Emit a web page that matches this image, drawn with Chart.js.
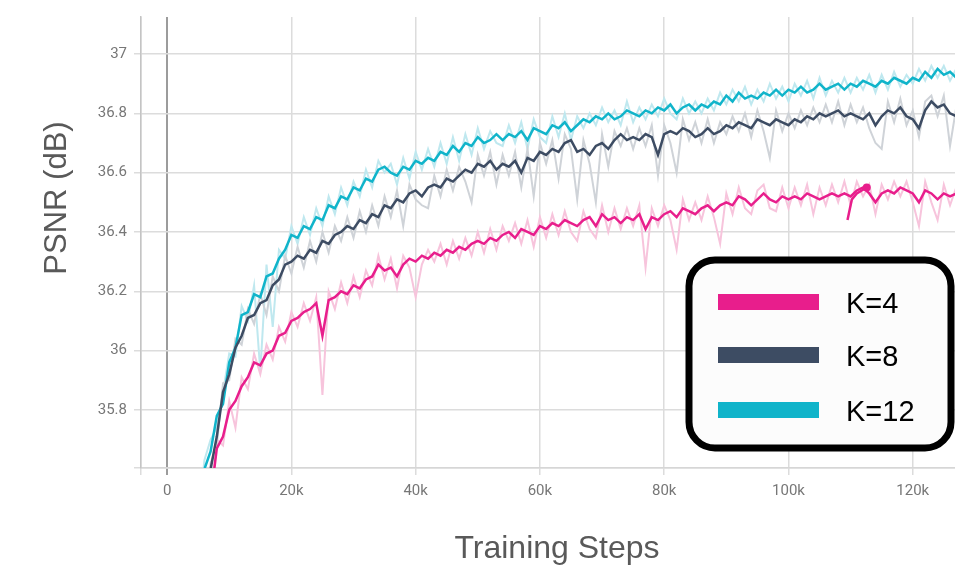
<!DOCTYPE html>
<html>
<head>
<meta charset="utf-8">
<script src="https://cdn.jsdelivr.net/npm/chart.js@4.4.1/dist/chart.umd.min.js"></script>
<style>
  html, body { margin: 0; padding: 0; background: #fff; overflow: hidden; }
  #wrap { width: 955px; height: 571px; }
  canvas { display: block; }
</style>
</head>
<body>
<div id="wrap"><canvas id="psnr" width="955" height="571"></canvas></div>
<script>
// training steps, in thousands
const steps = [
  5, 6, 7, 8, 9, 10, 11, 12, 13, 14,
  15, 16, 17, 18, 19, 20, 21, 22, 23, 24,
  25, 26, 27, 28, 29, 30, 31, 32, 33, 34,
  35, 36, 37, 38, 39, 40, 41, 42, 43, 44,
  45, 46, 47, 48, 49, 50, 51, 52, 53, 54,
  55, 56, 57, 58, 59, 60, 61, 62, 63, 64,
  65, 66, 67, 68, 69, 70, 71, 72, 73, 74,
  75, 76, 77, 78, 79, 80, 81, 82, 83, 84,
  85, 86, 87, 88, 89, 90, 91, 92, 93, 94,
  95, 96, 97, 98, 99, 100, 101, 102, 103, 104,
  105, 106, 107, 108, 109, 110, 111, 112, 113, 114,
  115, 116, 117, 118, 119, 120, 121, 122, 123, 124,
  125, 126, 127
];

// K=12 (smoothed + raw)
const k12 = [
  35.45, 35.60, 35.66, 35.78, 35.82, 35.96, 36.01, 36.12, 36.13, 36.19,
  36.18, 36.25, 36.26, 36.31, 36.34, 36.39, 36.38, 36.42, 36.41, 36.45,
  36.44, 36.49, 36.48, 36.52, 36.51, 36.55, 36.54, 36.58, 36.57, 36.61,
  36.62, 36.60, 36.59, 36.62, 36.61, 36.64, 36.63, 36.65, 36.64, 36.67,
  36.66, 36.69, 36.67, 36.70, 36.69, 36.72, 36.70, 36.71, 36.73, 36.71,
  36.73, 36.72, 36.74, 36.71, 36.75, 36.74, 36.73, 36.76, 36.75, 36.77,
  36.74, 36.76, 36.78, 36.77, 36.79, 36.78, 36.80, 36.78, 36.79, 36.81,
  36.80, 36.79, 36.81, 36.80, 36.82, 36.81, 36.83, 36.80, 36.82, 36.83,
  36.81, 36.83, 36.82, 36.84, 36.83, 36.86, 36.84, 36.87, 36.85, 36.86,
  36.85, 36.87, 36.86, 36.88, 36.86, 36.88, 36.87, 36.89, 36.87, 36.88,
  36.90, 36.88, 36.89, 36.90, 36.88, 36.90, 36.89, 36.91, 36.90, 36.89,
  36.91, 36.90, 36.92, 36.91, 36.90, 36.92, 36.91, 36.94, 36.92, 36.95,
  36.93, 36.94, 36.92
];
const k12Raw = [
  35.42, 35.63, 35.70, 35.74, 35.86, 35.99, 35.98, 36.15, 36.10, 36.22,
  35.93, 36.29, 36.08, 36.34, 36.31, 36.42, 36.36, 36.45, 36.39, 36.48,
  36.42, 36.52, 36.46, 36.55, 36.49, 36.57, 36.52, 36.61, 36.55, 36.64,
  36.60, 36.63, 36.56, 36.65, 36.58, 36.67, 36.61, 36.68, 36.62, 36.70,
  36.63, 36.72, 36.64, 36.73, 36.66, 36.75, 36.68, 36.74, 36.70, 36.69,
  36.76, 36.70, 36.77, 36.68, 36.78, 36.72, 36.70, 36.79, 36.72, 36.80,
  36.71, 36.79, 36.75, 36.80, 36.76, 36.82, 36.77, 36.81, 36.76, 36.84,
  36.77, 36.82, 36.78, 36.83, 36.79, 36.85, 36.80, 36.78, 36.85, 36.80,
  36.84, 36.80, 36.85, 36.81, 36.87, 36.83, 36.88, 36.84, 36.89, 36.83,
  36.88, 36.84, 36.90, 36.85, 36.89, 36.84, 36.90, 36.86, 36.91, 36.85,
  36.92, 36.86, 36.91, 36.87, 36.92, 36.87, 36.92, 36.88, 36.93, 36.87,
  36.93, 36.88, 36.94, 36.89, 36.93, 36.90, 36.95, 36.91, 36.96, 36.92,
  36.96, 36.91, 36.95
];

// K=8
const k8 = [
  null, 35.45, 35.60, 35.71, 35.86, 35.92, 36.01, 36.05, 36.11, 36.12,
  36.16, 36.17, 36.22, 36.24, 36.29, 36.30, 36.32, 36.31, 36.34, 36.33,
  36.37, 36.36, 36.39, 36.40, 36.42, 36.41, 36.44, 36.43, 36.46, 36.45,
  36.49, 36.48, 36.51, 36.50, 36.53, 36.54, 36.52, 36.55, 36.56, 36.55,
  36.58, 36.57, 36.59, 36.61, 36.60, 36.63, 36.62, 36.64, 36.61, 36.63,
  36.62, 36.64, 36.60, 36.65, 36.64, 36.67, 36.66, 36.68, 36.67, 36.70,
  36.71, 36.67, 36.68, 36.66, 36.69, 36.70, 36.68, 36.71, 36.73, 36.71,
  36.72, 36.71, 36.73, 36.72, 36.66, 36.73, 36.74, 36.73, 36.75, 36.74,
  36.72, 36.73, 36.75, 36.73, 36.74, 36.76, 36.75, 36.77, 36.76, 36.75,
  36.78, 36.77, 36.76, 36.78, 36.77, 36.76, 36.78, 36.77, 36.79, 36.78,
  36.80, 36.79, 36.80, 36.81, 36.79, 36.80, 36.79, 36.78, 36.80, 36.76,
  36.79, 36.81, 36.80, 36.82, 36.79, 36.78, 36.75, 36.81, 36.84, 36.82,
  36.83, 36.80, 36.79
];
const k8Raw = [
  null, 35.42, 35.62, 35.68, 35.89, 35.90, 36.04, 36.02, 36.14, 36.09,
  36.19, 36.12, 36.25, 36.20, 36.32, 36.26, 36.35, 36.28, 36.37, 36.30,
  36.40, 36.33, 36.42, 36.37, 36.45, 36.38, 36.47, 36.40, 36.49, 36.42,
  36.52, 36.45, 36.54, 36.42, 36.56, 36.51, 36.49, 36.48, 36.59, 36.52,
  36.61, 36.54, 36.62, 36.57, 36.50, 36.66, 36.59, 36.67, 36.56, 36.66,
  36.59, 36.67, 36.55, 36.68, 36.52, 36.70, 36.63, 36.71, 36.58, 36.73,
  36.68, 36.51, 36.71, 36.63, 36.50, 36.73, 36.62, 36.74, 36.69, 36.75,
  36.68, 36.75, 36.69, 36.76, 36.59, 36.76, 36.70, 36.60, 36.78, 36.71,
  36.77, 36.70, 36.78, 36.70, 36.77, 36.73, 36.79, 36.74, 36.80, 36.72,
  36.81, 36.74, 36.65, 36.81, 36.74, 36.80, 36.75, 36.81, 36.76, 36.82,
  36.77, 36.83, 36.77, 36.84, 36.76, 36.83, 36.77, 36.82, 36.75, 36.70,
  36.68, 36.84, 36.77, 36.85, 36.76, 36.81, 36.72, 36.84, 36.86, 36.79,
  36.86, 36.69, 36.82
];

// K=4
const k4 = [
  null, null, 35.50, 35.67, 35.71, 35.80, 35.83, 35.88, 35.91, 35.96,
  35.95, 35.99, 36.00, 36.05, 36.06, 36.10, 36.11, 36.13, 36.14, 36.16,
  36.05, 36.17, 36.18, 36.20, 36.19, 36.22, 36.21, 36.24, 36.25, 36.29,
  36.27, 36.28, 36.25, 36.29, 36.31, 36.30, 36.32, 36.31, 36.33, 36.32,
  36.34, 36.33, 36.35, 36.34, 36.36, 36.37, 36.36, 36.38, 36.37, 36.39,
  36.40, 36.38, 36.41, 36.40, 36.39, 36.42, 36.41, 36.43, 36.42, 36.44,
  36.43, 36.42, 36.44, 36.45, 36.42, 36.46, 36.44, 36.45, 36.43, 36.45,
  36.44, 36.46, 36.41, 36.45, 36.44, 36.46, 36.47, 36.45, 36.48, 36.47,
  36.46, 36.48, 36.49, 36.47, 36.49, 36.50, 36.49, 36.52, 36.51, 36.49,
  36.51, 36.53, 36.51, 36.50, 36.52, 36.51, 36.52, 36.51, 36.53, 36.52,
  36.51, 36.52, 36.53, 36.52, 36.53, 36.52, 36.54, 36.55, 36.53, 36.50,
  36.53, 36.54, 36.53, 36.55, 36.54, 36.53, 36.50, 36.54, 36.53, 36.51,
  36.53, 36.52, 36.53
];
const k4Raw = [
  null, null, 35.47, 35.70, 35.68, 35.83, 35.74, 35.91, 35.87, 35.99,
  35.92, 36.02, 35.97, 36.08, 36.03, 36.13, 36.08, 36.16, 36.10, 36.18,
  35.85, 36.20, 36.14, 36.23, 36.16, 36.25, 36.18, 36.27, 36.22, 36.32,
  36.24, 36.31, 36.21, 36.32, 36.28, 36.18, 36.29, 36.34, 36.30, 36.36,
  36.29, 36.37, 36.31, 36.38, 36.32, 36.40, 36.33, 36.41, 36.34, 36.42,
  36.37, 36.43, 36.36, 36.44, 36.35, 36.45, 36.38, 36.46, 36.39, 36.47,
  36.40, 36.37, 36.47, 36.41, 36.38, 36.49, 36.40, 36.48, 36.41, 36.48,
  36.42, 36.49, 36.28, 36.48, 36.42, 36.49, 36.44, 36.34, 36.51, 36.44,
  36.50, 36.44, 36.52, 36.45, 36.36, 36.53, 36.46, 36.55, 36.48, 36.46,
  36.54, 36.56, 36.48, 36.47, 36.55, 36.48, 36.55, 36.49, 36.56, 36.46,
  36.55, 36.49, 36.56, 36.50, 36.57, 36.49, 36.57, 36.52, 36.56, 36.46,
  36.56, 36.51, 36.57, 36.52, 36.57, 36.50, 36.42, 36.57, 36.50, 36.44,
  36.56, 36.49, 36.55
];
// short K=4 restart segment near 110k
const k4RestartSteps = [109.5, 110.2, 111, 112.6];
const k4Restart = [36.44, 36.51, 36.53, 36.55];

const seriesLabels = ['K=4', 'K=8', 'K=12'];
const xTickValues = [0, 20, 40, 60, 80, 100, 120];
const xTickLabels = ['0', '20k', '40k', '60k', '80k', '100k', '120k'];
const yTickValues = [35.8, 36, 36.2, 36.4, 36.6, 36.8, 37];
const yTickLabels = ['35.8', '36', '36.2', '36.4', '36.6', '36.8', '37'];
const xTitle = 'Training Steps';
const yTitle = 'PSNR (dB)';

const PINK = '#e81e8c', SLATE = '#3d4c63', CYAN = '#10b4ca';
const PINK_L = '#f7c4dc', SLATE_L = '#cfd3d8', CYAN_L = '#bfe8ef';

const pts = (xs, ys) => xs.map((x, i) => ({ x: x, y: ys[i] }));

function line(data, color, width, order, extra) {
    return Object.assign({
        data: data,
        borderColor: color,
        backgroundColor: color,
        borderWidth: width,
        pointRadius: 0,
        tension: 0,
        fill: false,
        order: order
    }, extra || {});
}

// titles + boxed legend
const overlay = {
    id: 'overlay',
    afterDraw(chart) {
        const ctx = chart.ctx;
        ctx.save();
        ctx.fillStyle = '#595959';
        ctx.font = '32px "Liberation Sans", Arial, sans-serif';
        ctx.textAlign = 'center';
        ctx.textBaseline = 'middle';
        ctx.fillText(xTitle, 557, 549);
        ctx.font = '31px "Liberation Sans", Arial, sans-serif';
        ctx.translate(57, 198);
        ctx.rotate(-Math.PI / 2);
        ctx.fillText(yTitle, 0, 0);
        ctx.restore();

        ctx.save();
        ctx.beginPath();
        ctx.roundRect(689, 260, 262, 188, 26);
        ctx.fillStyle = '#fcfcfc';
        ctx.fill();
        ctx.lineWidth = 7;
        ctx.strokeStyle = '#000';
        ctx.stroke();
        const items = chart.data.datasets.filter(d => d.legend);
        const rows = [302, 355, 410];
        ctx.font = '29px "Liberation Sans", Arial, sans-serif';
        ctx.textAlign = 'left';
        ctx.textBaseline = 'middle';
        items.forEach((d, i) => {
            ctx.fillStyle = d.borderColor;
            ctx.fillRect(718, rows[i] - 8, 101, 16);
            ctx.fillStyle = '#000';
            ctx.fillText(d.label, 846, rows[i] + 3);
        });
        ctx.restore();
    }
};

new Chart(document.getElementById('psnr'), {
    type: 'line',
    data: {
        datasets: [
            line(pts(steps, k4), PINK, 2.5, 0, { label: seriesLabels[0], legend: true }),
            line(pts(steps, k8), SLATE, 2.5, 0, { label: seriesLabels[1], legend: true }),
            line(pts(steps, k12), CYAN, 2.5, 0, { label: seriesLabels[2], legend: true }),
            line(pts(k4RestartSteps, k4Restart), PINK, 2.5, 0, { pointRadius: [0, 0, 0, 4], pointBorderWidth: 0 }),
            line(pts(steps, k4Raw), PINK_L, 2, 1),
            line(pts(steps, k8Raw), SLATE_L, 2, 1),
            line(pts(steps, k12Raw), CYAN_L, 2, 1)
        ]
    },
    options: {
        responsive: false,
        animation: false,
        layout: { autoPadding: false, padding: { top: 17, right: 0, left: 0, bottom: 0 } },
        plugins: {
            legend: { display: false },
            tooltip: { enabled: false }
        },
        scales: {
            x: {
                type: 'linear',
                min: -4.2,
                max: 126.8,
                afterFit: s => { s.height = 103; s.paddingLeft = 0; s.paddingRight = 0; },
                afterBuildTicks: s => {
                    s.ticks = [{ value: s.min }].concat(xTickValues.map(v => ({ value: v })));
                },
                ticks: {
                    padding: 7,
                    color: '#777',
                    font: { family: 'Roboto', size: 15 },
                    maxRotation: 0,
                    autoSkip: false,
                    callback: v => {
                        const i = xTickValues.indexOf(v);
                        return i < 0 ? '' : xTickLabels[i];
                    }
                },
                grid: {
                    color: c => (c.tick && c.tick.value === 0) ? '#9c9c9c' : '#dcdcdc',
                    lineWidth: c => (c.tick && c.tick.value === 0) ? 2 : 1.5,
                    tickLength: 7
                },
                border: { display: true, color: '#d6d6d6', width: 1.5 }
            },
            y: {
                type: 'linear',
                min: 35.604,
                max: 37.125,
                afterFit: s => { s.width = 141; s.paddingTop = 0; s.paddingBottom = 0; },
                afterBuildTicks: s => {
                    s.ticks = [{ value: s.min }].concat(yTickValues.map(v => ({ value: v })));
                },
                ticks: {
                    padding: 7,
                    color: '#777',
                    font: { family: 'Roboto', size: 15 },
                    callback: v => {
                        const i = yTickValues.indexOf(v);
                        return i < 0 ? '' : yTickLabels[i];
                    }
                },
                grid: { color: '#dcdcdc', lineWidth: 1.5, tickLength: 7 },
                border: { display: true, color: '#c4c4c4', width: 1.5 }
            }
        }
    },
    plugins: [overlay]
});
</script>
</body>
</html>
